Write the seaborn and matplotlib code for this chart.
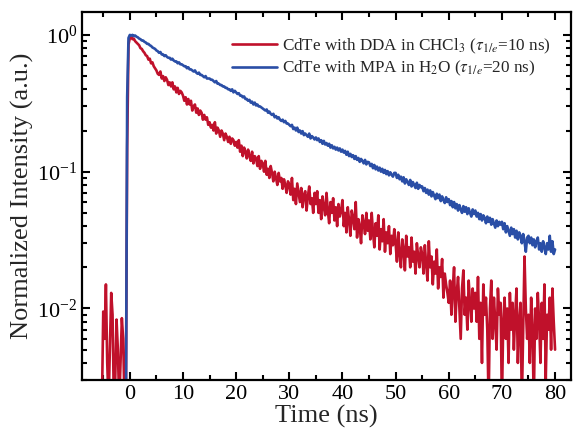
import numpy as np
import pandas as pd
import matplotlib
matplotlib.use("Agg")
import matplotlib.pyplot as plt
import seaborn as sns
from matplotlib.ticker import MultipleLocator, LogLocator, LogFormatterMathtext, NullFormatter

# time grid of the decay traces (ns), 0.25 ns bins
time_ns = np.arange(-5.5, 80.125, 0.25)

# CdTe with DDA in CHCl3 (red), 5 ns per row
dda_chcl3 = [
    0.002, 0.002, 0.0095, 0.006, 0.015, 0.004, 0.002, 0.005, 0.013, 0.009, 0.002,
    0.003, 0.0083, 0.005, 0.002, 0.004, 0.0085, 0.006, 0.002, 0.002, 0.15, 0.85,
    0.95, 0.96, 0.93, 0.94, 0.90, 0.88, 0.86, 0.84, 0.80, 0.79, 0.76, 0.74, 0.71, 0.70, 0.66, 0.67, 0.62, 0.63, 0.59, 0.57,
    0.55, 0.52, 0.51, 0.54, 0.48, 0.50, 0.46, 0.49, 0.47, 0.43, 0.45, 0.42, 0.45, 0.40, 0.42, 0.38, 0.41, 0.37, 0.39, 0.38,
    0.36, 0.33, 0.35, 0.31, 0.34, 0.31, 0.33, 0.28, 0.30, 0.31, 0.27, 0.29, 0.26, 0.28, 0.27, 0.24, 0.26, 0.24, 0.25, 0.22,
    0.23, 0.21, 0.22, 0.20, 0.23, 0.19, 0.21, 0.20, 0.18, 0.20, 0.19, 0.17, 0.19, 0.18, 0.165, 0.18, 0.16, 0.175, 0.17, 0.155,
    0.165, 0.15, 0.17, 0.14, 0.155, 0.13, 0.15, 0.14, 0.125, 0.145, 0.13, 0.12, 0.14, 0.115, 0.13, 0.125, 0.11, 0.13, 0.105, 0.12,
    0.115, 0.10, 0.12, 0.095, 0.105, 0.09, 0.11, 0.098, 0.085, 0.10, 0.09, 0.08, 0.098, 0.085, 0.09, 0.075, 0.088, 0.08, 0.07, 0.085,
    0.08, 0.068, 0.09, 0.062, 0.075, 0.058, 0.082, 0.07, 0.06, 0.076, 0.055, 0.068, 0.072, 0.052, 0.066, 0.078, 0.058, 0.064, 0.05, 0.07,
    0.058, 0.072, 0.05, 0.062, 0.045, 0.066, 0.055, 0.048, 0.07, 0.052, 0.042, 0.06, 0.05, 0.064, 0.044, 0.055, 0.04, 0.058, 0.047, 0.052,
    0.062, 0.04, 0.05, 0.036, 0.055, 0.044, 0.034, 0.052, 0.046, 0.038, 0.06, 0.033, 0.045, 0.04, 0.03, 0.048, 0.042, 0.035, 0.05, 0.037,
    0.044, 0.032, 0.05, 0.036, 0.028, 0.042, 0.034, 0.048, 0.027, 0.038, 0.031, 0.045, 0.026, 0.036, 0.03, 0.04, 0.025, 0.034, 0.029, 0.038,
    0.03, 0.022, 0.036, 0.025, 0.02, 0.032, 0.027, 0.019, 0.034, 0.024, 0.028, 0.02, 0.033, 0.022, 0.026, 0.018, 0.03, 0.024, 0.02, 0.028,
    0.025, 0.018, 0.029, 0.021, 0.016, 0.031, 0.02, 0.024, 0.015, 0.022, 0.018, 0.027, 0.014, 0.02, 0.017, 0.023, 0.012, 0.018, 0.015, 0.013,
    0.011, 0.016, 0.009, 0.014, 0.02, 0.008, 0.013, 0.017, 0.01, 0.006, 0.014, 0.019, 0.009, 0.012, 0.007, 0.016, 0.011, 0.008, 0.014, 0.01,
    0.013, 0.008, 0.017, 0.006, 0.011, 0.004, 0.015, 0.009, 0.012, 0.007, 0.002, 0.01, 0.016, 0.006, 0.012, 0.008, 0.005, 0.014, 0.009, 0.011,
    0.002, 0.008, 0.012, 0.006, 0.01, 0.004, 0.013, 0.007, 0.011, 0.005, 0.009, 0.014, 0.004, 0.008, 0.011, 0.002, 0.007, 0.024, 0.01, 0.006,
    0.009, 0.004, 0.012, 0.007, 0.002, 0.01, 0.006, 0.013, 0.008, 0.004, 0.011, 0.006, 0.015, 0.003, 0.009, 0.007, 0.012, 0.005, 0.014, 0.008,
    0.005,
]

# CdTe with MPA in H2O (blue)
mpa_h2o = [
    0.001, 0.001, 0.001, 0.001, 0.001, 0.001, 0.001, 0.001, 0.001, 0.001, 0.001,
    0.001, 0.001, 0.001, 0.001, 0.001, 0.001, 0.001, 0.001, 0.001, 0.35, 0.95,
    1.0, 0.99, 1.0, 0.98, 0.99, 0.97, 0.96, 0.94, 0.93, 0.91, 0.91, 0.89, 0.88, 0.86, 0.86, 0.84, 0.83, 0.81, 0.80, 0.79,
    0.77, 0.76, 0.74, 0.75, 0.72, 0.72, 0.70, 0.71, 0.69, 0.68, 0.68, 0.66, 0.67, 0.65, 0.64, 0.64, 0.62, 0.63, 0.61, 0.61,
    0.60, 0.59, 0.59, 0.57, 0.58, 0.56, 0.56, 0.55, 0.54, 0.55, 0.53, 0.52, 0.53, 0.51, 0.51, 0.50, 0.49, 0.50, 0.48, 0.48,
    0.48, 0.47, 0.47, 0.46, 0.45, 0.46, 0.44, 0.44, 0.43, 0.43, 0.42, 0.42, 0.41, 0.41, 0.40, 0.40, 0.39, 0.40, 0.38, 0.39,
    0.38, 0.37, 0.375, 0.36, 0.36, 0.35, 0.355, 0.34, 0.34, 0.33, 0.335, 0.32, 0.325, 0.31, 0.32, 0.305, 0.31, 0.30, 0.30, 0.295,
    0.29, 0.285, 0.28, 0.285, 0.27, 0.275, 0.265, 0.26, 0.265, 0.25, 0.255, 0.245, 0.25, 0.24, 0.235, 0.24, 0.23, 0.235, 0.225, 0.225,
    0.22, 0.215, 0.22, 0.205, 0.21, 0.20, 0.21, 0.195, 0.20, 0.19, 0.198, 0.185, 0.19, 0.185, 0.18, 0.19, 0.175, 0.182, 0.178, 0.172,
    0.178, 0.17, 0.175, 0.165, 0.17, 0.16, 0.168, 0.158, 0.162, 0.155, 0.16, 0.15, 0.156, 0.148, 0.152, 0.145, 0.15, 0.143, 0.148, 0.14,
    0.145, 0.138, 0.142, 0.133, 0.14, 0.13, 0.135, 0.128, 0.132, 0.124, 0.13, 0.122, 0.126, 0.118, 0.124, 0.12, 0.115, 0.122, 0.113, 0.118,
    0.117, 0.11, 0.114, 0.106, 0.112, 0.104, 0.109, 0.102, 0.107, 0.1, 0.105, 0.098, 0.103, 0.096, 0.101, 0.094, 0.099, 0.095, 0.092, 0.098,
    0.098, 0.09, 0.095, 0.088, 0.092, 0.085, 0.091, 0.082, 0.088, 0.084, 0.08, 0.087, 0.078, 0.084, 0.08, 0.076, 0.083, 0.075, 0.08, 0.077,
    0.078, 0.072, 0.076, 0.07, 0.074, 0.068, 0.073, 0.066, 0.071, 0.067, 0.063, 0.069, 0.064, 0.068, 0.061, 0.066, 0.062, 0.059, 0.065, 0.06,
    0.063, 0.057, 0.061, 0.055, 0.06, 0.054, 0.058, 0.052, 0.057, 0.053, 0.05, 0.056, 0.051, 0.055, 0.049, 0.054, 0.05, 0.047, 0.053, 0.049,
    0.052, 0.047, 0.05, 0.045, 0.049, 0.044, 0.048, 0.046, 0.042, 0.047, 0.043, 0.046, 0.041, 0.045, 0.042, 0.039, 0.044, 0.04, 0.043, 0.041,
    0.043, 0.038, 0.042, 0.036, 0.04, 0.037, 0.034, 0.039, 0.035, 0.038, 0.033, 0.037, 0.032, 0.036, 0.034, 0.03, 0.035, 0.031, 0.026, 0.033,
    0.034, 0.03, 0.033, 0.029, 0.032, 0.028, 0.031, 0.033, 0.027, 0.03, 0.026, 0.031, 0.028, 0.025, 0.03, 0.027, 0.034, 0.026, 0.031, 0.025,
    0.027,
]

labels = [r"CdTe with DDA in CHCl$_3$ ($\tau_{1/e}$=10 ns)",
          r"CdTe with MPA in H$_2$O ($\tau_{1/e}$=20 ns)"]
colors = ["#c0112b", "#2a4ea6"]

df = pd.concat([
    pd.DataFrame({"t": time_ns, "I": dda_chcl3, "sample": labels[0]}),
    pd.DataFrame({"t": time_ns, "I": mpa_h2o, "sample": labels[1]}),
])

sns.set_style("ticks")
plt.rcParams["font.family"] = ["Liberation Serif", "DejaVu Serif"]
plt.rcParams["mathtext.fontset"] = "stix"

fig = plt.figure(figsize=(5.79, 4.37), dpi=100)
ax = fig.add_axes([0.1416, 0.1304, 0.8446, 0.8421])

sns.lineplot(data=df, x="t", y="I", hue="sample", hue_order=labels,
             palette=colors, linewidth=1.9, ax=ax, estimator=None)
ax.set_yscale("log")
ax.set_xlim(-9, 83)
ax.set_ylim(0.003, 1.47)

ax.xaxis.set_major_locator(MultipleLocator(10))
ax.xaxis.set_minor_locator(MultipleLocator(5))
ax.yaxis.set_major_locator(LogLocator(base=10))
ax.yaxis.set_minor_locator(LogLocator(base=10, subs=np.arange(2, 10)))
ax.yaxis.set_major_formatter(LogFormatterMathtext())
ax.yaxis.set_minor_formatter(NullFormatter())

ax.tick_params(which="both", direction="in", top=True, right=True, width=1.5,
               labelsize=16, colors="black")
ax.tick_params(which="major", length=6)
ax.tick_params(which="minor", length=3.5)
for s in ax.spines.values():
    s.set_linewidth(1.6)
    s.set_color("black")

ax.set_xlabel("Time (ns)", fontsize=19, labelpad=1)
ax.set_ylabel("Normalized Intensity (a.u.)", fontsize=19, labelpad=2)

ax.legend(loc="upper right", bbox_to_anchor=(0.972, 0.952), frameon=False,
          fontsize=12.3, handlelength=2.6, handletextpad=0.3, labelspacing=0.2,
          borderaxespad=0)

fig.savefig("out.png", dpi=100)
